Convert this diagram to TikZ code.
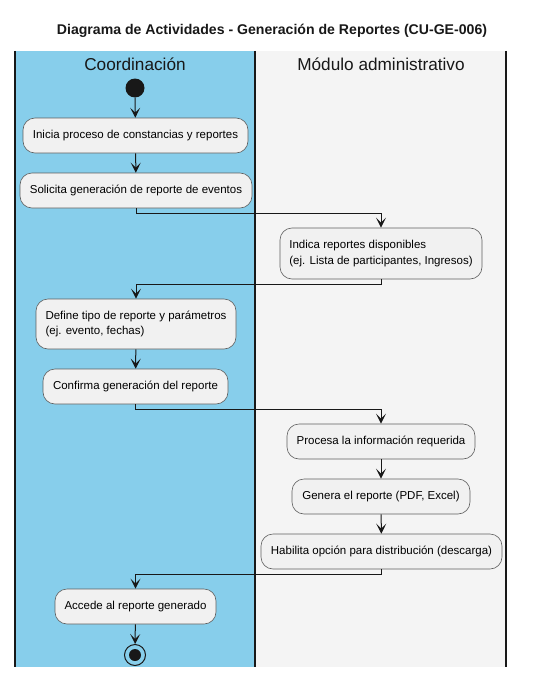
\documentclass[tikz,border=0pt]{standalone}
\usepackage{fontspec}
\setmainfont{Liberation Sans}
\usetikzlibrary{arrows.meta}
\definecolor{lanea}{HTML}{87CEEB}
\definecolor{laneb}{HTML}{F4F4F4}
\definecolor{actfill}{HTML}{F1F1F1}
\definecolor{actline}{HTML}{5F5F5F}
\definecolor{ink}{HTML}{181818}
\begin{document}
\begin{tikzpicture}[x=1pt,y=-1pt,
  act/.style={draw=actline, fill=actfill, rounded corners=12pt, line width=0.6pt,
    minimum height=35pt, inner xsep=6pt, font=\fontsize{11.5}{15.5}\selectfont, align=left},
  flow/.style={-{Stealth[length=10pt,width=10pt,inset=5pt]}, line width=1pt, draw=ink},
  lanehead/.style={font=\fontsize{17.2}{20}\selectfont, text=ink},
  laneline/.style={line width=1.5pt, draw=ink}]
\useasboundingbox (0,0) rectangle (545,677);
% lanes
\fill[lanea] (15,51) rectangle (255,667);
\fill[laneb] (255,51) rectangle (506,667);
\draw[laneline] (15,51) -- (15,667);
\draw[laneline] (255,51) -- (255,667);
\draw[laneline] (506,51) -- (506,667);
% title and headers
\node[font=\bfseries\fontsize{14.1}{16}\selectfont, text=ink] (title) at (272,31) {Diagrama de Actividades - Generación de Reportes (CU-GE-006)};
\node[lanehead] (h1) at (135,64) {Coordinación};
\node[lanehead] (h2) at (381,64) {Módulo administrativo};
% nodes
\node[circle, fill=ink, minimum size=19pt, inner sep=0pt] (start) at (135,88) {};
\node[act, minimum width=225pt] (a1) at (135.5,135.5) {Inicia proceso de constancias y reportes};
\node[act, minimum width=232pt] (a2) at (136,190.5) {Solicita generación de reporte de eventos};
\node[act, minimum width=202pt, minimum height=51pt] (a3) at (381,253.5) {Indica reportes disponibles\\(ej. Lista de participantes, Ingresos)};
\node[act, minimum width=200pt, minimum height=50pt] (a4) at (136,324) {Define tipo de reporte y parámetros\\(ej. evento, fechas)};
\node[act, minimum width=185pt] (a5) at (135.5,386.5) {Confirma generación del reporte};
\node[act, minimum width=188pt] (a6) at (381,441.5) {Procesa la información requerida};
\node[act, minimum width=178pt] (a7) at (381,496.5) {Genera el reporte (PDF, Excel)};
\node[act, minimum width=241pt] (a8) at (381.5,551.5) {Habilita opción para distribución (descarga)};
\node[act, minimum width=161pt] (a9) at (135.5,606.5) {Accede al reporte generado};
\node[circle, draw=ink, line width=1pt, minimum size=21pt, inner sep=0pt] (stop) at (135,655) {};
\node[circle, fill=ink, minimum size=12pt, inner sep=0pt] (stopin) at (stop) {};
% connectors
\draw[flow] (start) -- (a1);
\draw[flow] (a1) -- (a2);
\draw[flow] (a2.south) -- ++(0,5) -| (a3.north);
\draw[flow] (a3.south) -- ++(0,5) -| (a4.north);
\draw[flow] (a4) -- (a5);
\draw[flow] (a5.south) -- ++(0,5) -| (a6.north);
\draw[flow] (a6) -- (a7);
\draw[flow] (a7) -- (a8);
\draw[flow] (a8.south) -- ++(0,5) -| (a9.north);
\draw[flow] (a9) -- (stop);
\end{tikzpicture}
\end{document}
